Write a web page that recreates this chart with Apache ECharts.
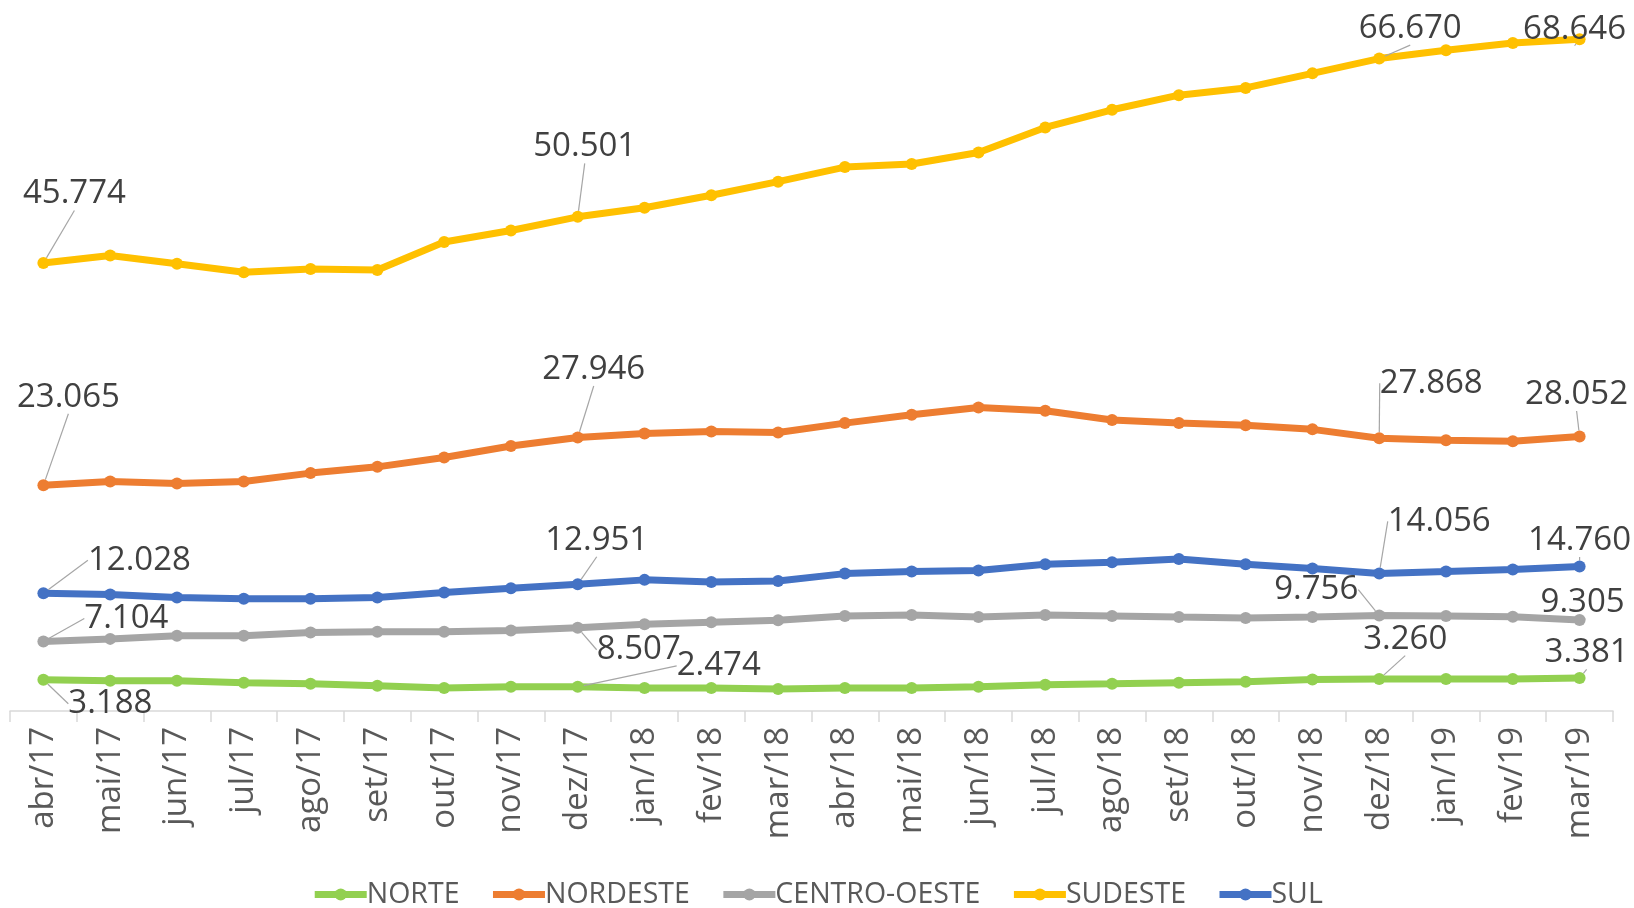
<!DOCTYPE html>
<html>
<head>
<meta charset="UTF-8">
<script type="text/javascript" src="https://cdn.jsdelivr.net/npm/echarts@6/dist/echarts.min.js"></script>
<title>Regiões</title>
<style>
	html, body { margin: 0; padding: 0; background: #fff; }
	#main { width: 1634px; height: 908px; }
</style>
<script>
	// meses
	var meses = ['abr/17', 'mai/17', 'jun/17', 'jul/17', 'ago/17', 'set/17', 'out/17', 'nov/17', 'dez/17',
		'jan/18', 'fev/18', 'mar/18', 'abr/18', 'mai/18', 'jun/18', 'jul/18', 'ago/18', 'set/18', 'out/18',
		'nov/18', 'dez/18', 'jan/19', 'fev/19', 'mar/19'];

	var norte = [3188, 3100, 3100, 2890, 2780, 2570, 2360, 2470, 2474, 2360, 2360, 2250,
		2360, 2360, 2470, 2680, 2780, 2890, 3000, 3210, 3260, 3270, 3280, 3381];
	var nordeste = [23065, 23460, 23250, 23460, 24310, 24950, 25910, 27080, 27946, 28350, 28560, 28460,
		29420, 30270, 31010, 30690, 29730, 29420, 29200, 28780, 27868, 27660, 27560, 28052];
	var centroOeste = [7104, 7370, 7690, 7690, 8010, 8110, 8110, 8220, 8507, 8860, 9070, 9280,
		9710, 9820, 9600, 9820, 9710, 9600, 9500, 9600, 9756, 9700, 9620, 9305];
	var sudeste = [45774, 46550, 45700, 44840, 45160, 45060, 47930, 49100, 50501, 51430, 52710, 54090,
		55580, 55900, 57070, 59630, 61440, 62930, 63670, 65160, 66670, 67520, 68270, 68646];
	var sul = [12028, 11910, 11590, 11480, 11480, 11590, 12120, 12540, 12951, 13400, 13190, 13290,
		14040, 14250, 14360, 14990, 15210, 15530, 14990, 14570, 14056, 14250, 14460, 14760];

	// pontos com rótulo
	var pontosRotulo = [0, 8, 20, 23];

	// deslocamento dos rótulos (px) por série, na ordem de pontosRotulo
	var desloc = {
		'NORTE': [[67, 24], [141, -21], [26, -40], [7, -25]],
		'NORDESTE': [[25, -88], [16, -68], [52, -55], [-3, -42]],
		'CENTRO-OESTE': [[83, -23], [61, 22], [-63, -26], [3, -17]],
		'SUDESTE': [[31, -69], [7, -70], [31, -30], [-5, -10]],
		'SUL': [[96, -33], [19, -44], [60, -52], [0, -26]]
	};

	var fonte = "'Open Sans', sans-serif";

	function milhar(n) {
		return String(n).replace(/\B(?=(\d{3})+(?!\d))/g, '.');
	}

	function montaSerie(nome, valores, cor) {
		var dados = [];
		for (var i = 0; i < valores.length; i++) {
			var item = { value: valores[i] };
			if (pontosRotulo.indexOf(i) >= 0) {
				item.label = { show: true };
				item.labelLine = { show: true };
			}
			dados.push(item);
		}
		return {
			name: nome,
			type: 'line',
			symbol: 'circle',
			symbolSize: 12,
			lineStyle: { color: cor, width: 7 },
			itemStyle: { color: cor },
			label: {
				show: false,
				position: 'inside',
				fontFamily: fonte,
				fontSize: 33,
				color: '#404040',
				formatter: function(p) { return milhar(p.value); }
			},
			labelLine: {
				show: false,
				lineStyle: { color: '#a6a6a6', width: 1.2 }
			},
			labelLayout: function(params) {
				var k = pontosRotulo.indexOf(params.dataIndex);
				if (k < 0) return {};
				var d = desloc[nome][k];
				return { dx: d[0], dy: d[1] };
			},
			emphasis: { disabled: true },
			animation: false,
			data: dados
		};
	}

	window.onload = function() {
		var myChart = echarts.init(document.getElementById('main'), null, { renderer: 'canvas' });
		myChart.setOption({
			animation: false,
			grid: { left: 10, right: 21, top: 26, bottom: 197 },
			legend: {
				top: 875,
				left: 'center',
				itemWidth: 52,
				itemHeight: 15,
				itemGap: 30,
				lineStyle: { width: 7 },
				textStyle: { fontFamily: fonte, fontSize: 28.5, color: '#595959', padding: [0, 0, 0, -5] },
				data: ['NORTE', 'NORDESTE', 'CENTRO-OESTE', 'SUDESTE', 'SUL']
			},
			xAxis: {
				type: 'category',
				boundaryGap: true,
				data: meses,
				axisLine: { lineStyle: { color: '#d9d9d9', width: 1.5 } },
				axisTick: { show: true, length: 11, lineStyle: { color: '#d9d9d9', width: 1.5 } },
				axisLabel: {
					rotate: 90,
					interval: 0,
					margin: 16,
					fontFamily: fonte,
					fontSize: 33,
					color: '#595959'
				}
			},
			yAxis: {
				type: 'value',
				min: 0,
				max: 70000,
				show: false,
				splitLine: { show: false }
			},
			series: [
				montaSerie('NORTE', norte, '#92d050'),
				montaSerie('NORDESTE', nordeste, '#ed7d31'),
				montaSerie('CENTRO-OESTE', centroOeste, '#a5a5a5'),
				montaSerie('SUDESTE', sudeste, '#ffc000'),
				montaSerie('SUL', sul, '#4472c4')
			]
		});
	};
</script>
</head>
<body>
<div id="main"></div>
</body>
</html>
